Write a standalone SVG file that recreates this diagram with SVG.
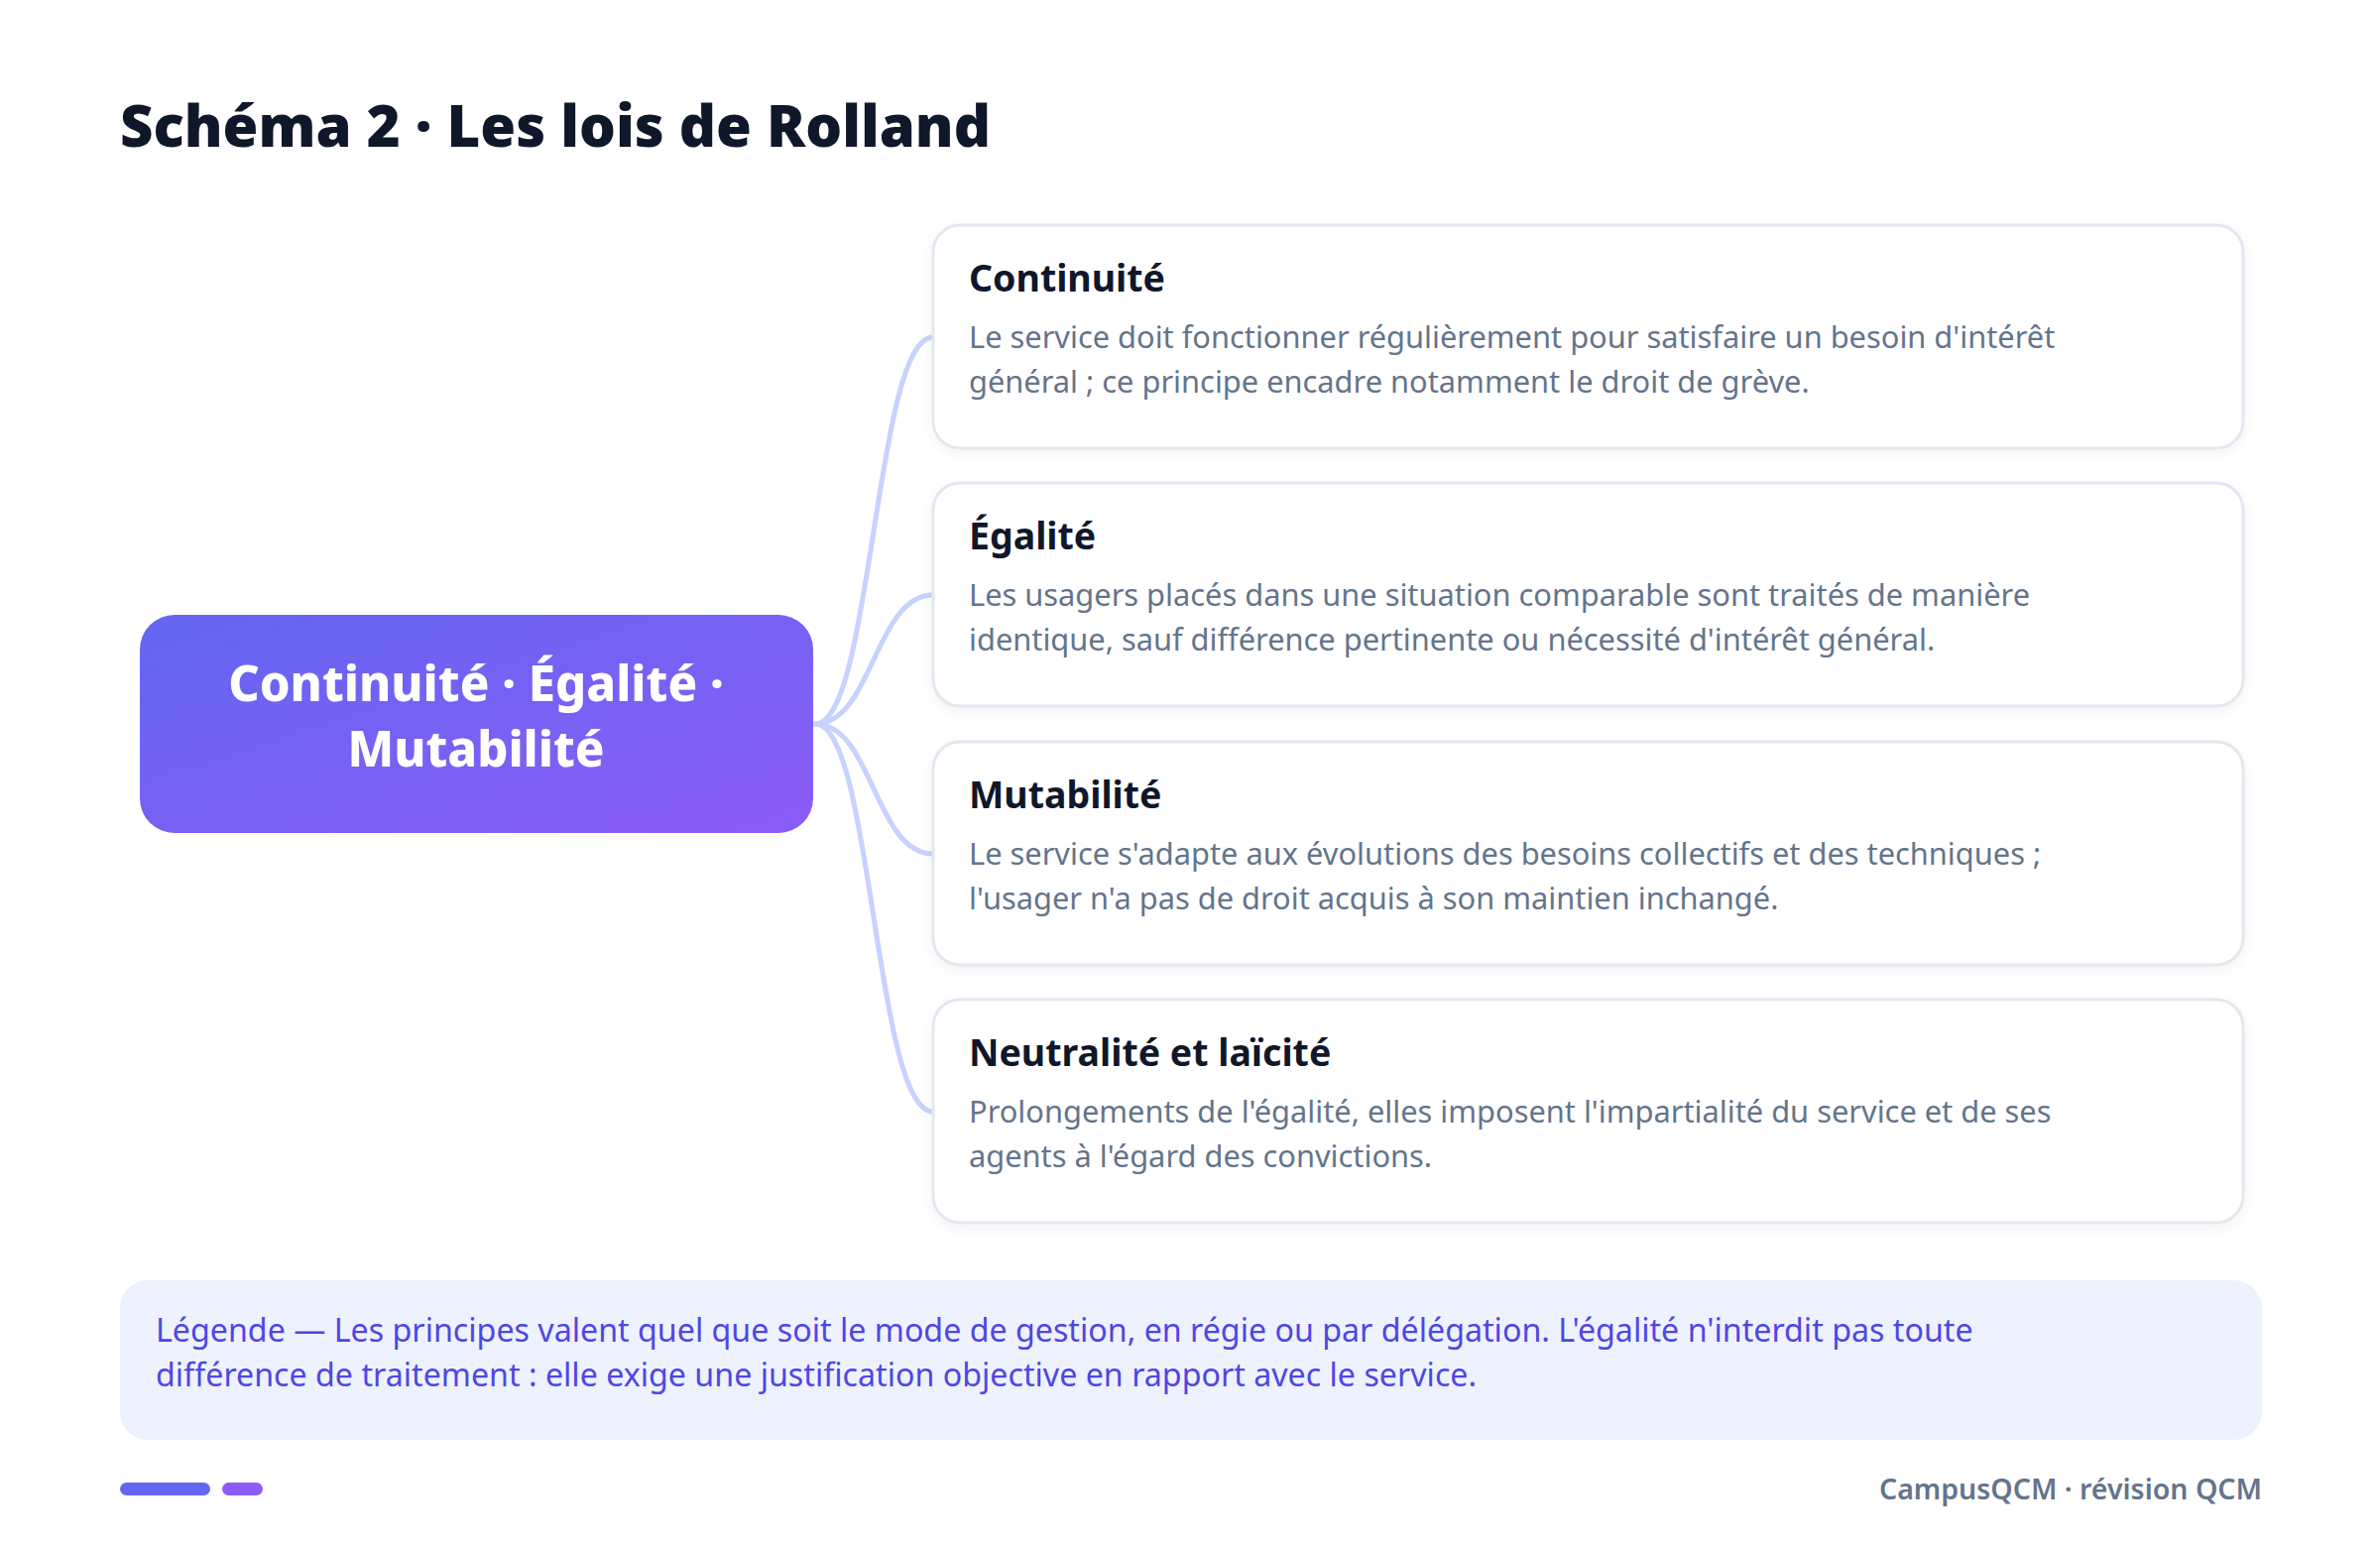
<svg xmlns="http://www.w3.org/2000/svg" width="2400" height="1561" viewBox="0 0 2400 1561">
<defs>
<linearGradient id="hub" x1="0" y1="0" x2="1" y2="1">
<stop offset="0" stop-color="#6366f1"/>
<stop offset="1" stop-color="#8b5cf6"/>
</linearGradient>
<filter id="sh" x="-5%" y="-10%" width="110%" height="130%">
<feDropShadow dx="0" dy="4" stdDeviation="6" flood-color="#0f172a" flood-opacity="0.05"/>
</filter>
</defs>
<style>
text{font-family:"Noto Sans","Open Sans","DejaVu Sans",sans-serif}
.title{font-size:58px;font-weight:900;fill:#0f172a}
.hubt{font-size:49px;font-weight:800;fill:#ffffff}
.card{fill:#ffffff;stroke:#e2e8f0;stroke-width:3}
.ct{font-size:37.5px;font-weight:700;fill:#0f172a}
.cb{font-size:30.8px;font-weight:400;fill:#64748b}
.conn{fill:none;stroke:#c7d2fe;stroke-width:5;stroke-linecap:round}
.leg{font-size:32.2px;fill:#4f46e5}
.foot{font-size:28.5px;font-weight:600;fill:#64748b}
</style>
<rect width="2400" height="1561" fill="#ffffff"/>
<text class="title" x="121" y="148">Schéma 2 · Les lois de Rolland</text>
<g id="connectors">
<path class="conn" d="M822 730 C880 730 882 340 941 340"/>
<path class="conn" d="M822 730 C880 730 882 600 941 600"/>
<path class="conn" d="M822 730 C880 730 882 861 941 861"/>
<path class="conn" d="M822 730 C880 730 882 1121 941 1121"/>
</g>
<g id="hub">
<rect x="141" y="620" width="679" height="220" rx="35" fill="url(#hub)"/>
<text class="hubt" x="480" y="707" text-anchor="middle">Continuité · Égalité ·</text>
<text class="hubt" x="480" y="773" text-anchor="middle">Mutabilité</text>
</g>
<g id="card-continuite">
<rect class="card" x="941" y="227" width="1321" height="225" rx="27" filter="url(#sh)"/>
<text class="ct" x="977" y="294">Continuité</text>
<text class="cb" x="977" y="351">Le service doit fonctionner régulièrement pour satisfaire un besoin d'intérêt</text>
<text class="cb" x="977" y="396">général ; ce principe encadre notamment le droit de grève.</text>
</g>
<g id="card-egalite">
<rect class="card" x="941" y="487" width="1321" height="225" rx="27" filter="url(#sh)"/>
<text class="ct" x="977" y="554">Égalité</text>
<text class="cb" x="977" y="611">Les usagers placés dans une situation comparable sont traités de manière</text>
<text class="cb" x="977" y="656">identique, sauf différence pertinente ou nécessité d'intérêt général.</text>
</g>
<g id="card-mutabilite">
<rect class="card" x="941" y="748" width="1321" height="225" rx="27" filter="url(#sh)"/>
<text class="ct" x="977" y="815">Mutabilité</text>
<text class="cb" x="977" y="872">Le service s'adapte aux évolutions des besoins collectifs et des techniques ;</text>
<text class="cb" x="977" y="917">l'usager n'a pas de droit acquis à son maintien inchangé.</text>
</g>
<g id="card-neutralite">
<rect class="card" x="941" y="1008" width="1321" height="225" rx="27" filter="url(#sh)"/>
<text class="ct" x="977" y="1075">Neutralité et laïcité</text>
<text class="cb" x="977" y="1132">Prolongements de l'égalité, elles imposent l'impartialité du service et de ses</text>
<text class="cb" x="977" y="1177">agents à l'égard des convictions.</text>
</g>
<g id="legend">
<rect x="121" y="1291" width="2160" height="161" rx="28" fill="#eef2ff"/>
<text class="leg" x="157" y="1353">Légende — Les principes valent quel que soit le mode de gestion, en régie ou par délégation. L'égalité n'interdit pas toute</text>
<text class="leg" x="157" y="1398">différence de traitement : elle exige une justification objective en rapport avec le service.</text>
</g>
<g id="footer">
<rect x="121" y="1495" width="91" height="13" rx="6.5" fill="#6366f1"/>
<rect x="224" y="1495" width="41" height="13" rx="6.5" fill="#8b5cf6"/>
<text class="foot" x="2281" y="1512" text-anchor="end">CampusQCM · révision QCM</text>
</g>
</svg>
